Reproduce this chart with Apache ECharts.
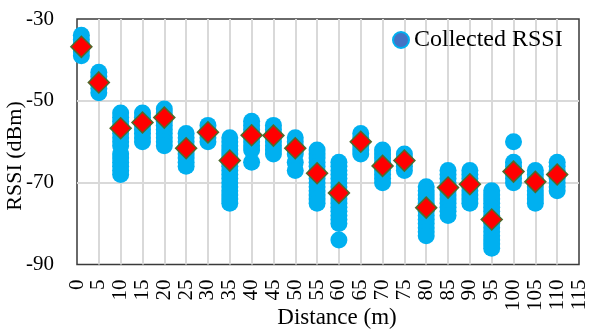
<!DOCTYPE html>
<html>
<head>
<meta charset="utf-8">
<script src="https://cdn.jsdelivr.net/npm/echarts@6/dist/echarts.min.js"></script>
<style>
  html, body { margin: 0; padding: 0; background: #fff; }
  #chart { width: 590px; height: 331px; }
</style>
</head>
<body>
<div id="chart"></div>
<script>
// Measurement distances (m)
const distances = [1, 5, 10, 15, 20, 25, 30, 35, 40, 45, 50, 55, 60, 65, 70, 75, 80, 85, 90, 95, 100, 105, 110];

// Collected RSSI samples (dBm) at each distance
const rssiSamples = [
  [-34, -35, -36, -37, -38, -39],
  [-43, -44, -45, -46, -47, -48],
  [-53, -54, -55, -56, -57, -58, -59, -60, -61, -63, -64, -65, -66, -67, -68],
  [-53, -54, -55, -56, -57, -58, -59, -60],
  [-52, -53, -54, -55, -56, -57, -58, -59, -60, -61],
  [-58, -59, -60, -61, -62, -63, -64, -65, -66],
  [-56, -57, -58, -59, -60],
  [-59, -60, -61, -62, -63, -64, -65, -66, -67, -68, -69, -70, -71, -72, -73, -74, -75],
  [-55, -56, -57, -58, -59, -60, -61, -62, -65],
  [-56, -57, -58, -59, -60, -61, -62, -63],
  [-59, -60, -61, -62, -63, -65, -67],
  [-62, -63, -64, -65, -66, -67, -68, -69, -70, -71, -72, -73, -74, -75],
  [-65, -66, -67, -68, -69, -70, -71, -72, -73, -74, -75, -76, -77, -78, -79, -80, -84],
  [-58, -59, -60, -61, -62, -63],
  [-62, -63, -64, -65, -66, -67, -68, -69, -70],
  [-63, -64, -65, -66, -67],
  [-71, -72, -73, -74, -75, -76, -77, -78, -79, -80, -81, -82, -83],
  [-67, -68, -69, -70, -71, -72, -73, -74, -75, -76, -77, -78],
  [-67, -68, -69, -70, -71, -72, -73, -74, -75],
  [-72, -73, -74, -75, -76, -77, -78, -79, -80, -81, -82, -83, -84, -85, -86],
  [-60, -65, -66, -67, -68, -69, -70],
  [-67, -68, -69, -70, -71, -72, -73, -74, -75],
  [-65, -66, -67, -68, -69, -70, -71, -72]
];

// Average RSSI (dBm) at each distance
const meanRssi = [-36.8, -45.5, -56.7, -55.3, -54.1, -61.6, -57.7, -64.6, -58.4, -58.5, -61.6, -67.7, -72.5, -60.0, -65.9, -64.6, -76.1, -71.2, -70.4, -79.0, -67.3, -69.8, -68.0];

const samplePoints = [];
distances.forEach((d, i) => {
  rssiSamples[i].forEach(v => samplePoints.push([d, v]));
});
const meanPoints = distances.map((d, i) => [d, meanRssi[i]]);

const FONT = 'Liberation Serif';
const chart = echarts.init(document.getElementById('chart'), null, { renderer: 'canvas' });

chart.setOption({
  animation: false,
  backgroundColor: '#ffffff',
  grid: {
    left: 77, right: 11, top: 19, bottom: 66.5,
    show: true, borderColor: '#3a3a3a', borderWidth: 1.5, backgroundColor: 'transparent'
  },
  legend: {
    left: 387, top: 23,
    itemWidth: 16, itemHeight: 16,
    textStyle: { fontFamily: FONT, fontSize: 24, color: '#000' },
    data: [{
      name: 'Collected RSSI', icon: 'circle',
      itemStyle: { color: '#4472C4', borderColor: '#00B0F0', borderWidth: 2 }
    }]
  },
  xAxis: {
    type: 'value', min: 0, max: 115, interval: 5,
    axisLine: { show: false },
    axisTick: { show: false },
    axisLabel: { rotate: 90, margin: 15, fontFamily: FONT, fontSize: 21, color: '#000', showMinLabel: true, showMaxLabel: true },
    splitLine: { show: true, showMinLine: false, showMaxLine: false, lineStyle: { color: '#d9d9d9', width: 2 } }
  },
  yAxis: {
    type: 'value', min: -90, max: -30, interval: 20,
    axisLine: { show: false },
    axisTick: { show: false },
    axisLabel: { margin: 23, fontFamily: FONT, fontSize: 21, color: '#000' },
    splitLine: { show: true, showMinLine: false, showMaxLine: false, lineStyle: { color: '#d9d9d9', width: 2 } }
  },
  graphic: [
    {
      type: 'text', x: 15.5, y: 156, rotation: Math.PI / 2,
      style: { text: 'RSSI (dBm)', fontFamily: FONT, fontSize: 22, fill: '#000', align: 'center', verticalAlign: 'middle' }
    },
    {
      type: 'text', x: 337, y: 318,
      style: { text: 'Distance (m)', fontFamily: FONT, fontSize: 23, fill: '#000', align: 'center', verticalAlign: 'middle' }
    }
  ],
  series: [
    {
      name: 'Collected RSSI', type: 'scatter',
      symbol: 'circle', symbolSize: 17,
      itemStyle: { color: '#00B0F0', opacity: 1 },
      data: samplePoints, z: 2
    },
    {
      name: 'Average RSSI', type: 'scatter',
      symbol: 'diamond', symbolSize: 21,
      itemStyle: { color: '#FF0000', borderColor: '#4F6B2C', borderWidth: 1.5, opacity: 1 },
      data: meanPoints, z: 3
    }
  ]
});
</script>
</body>
</html>
